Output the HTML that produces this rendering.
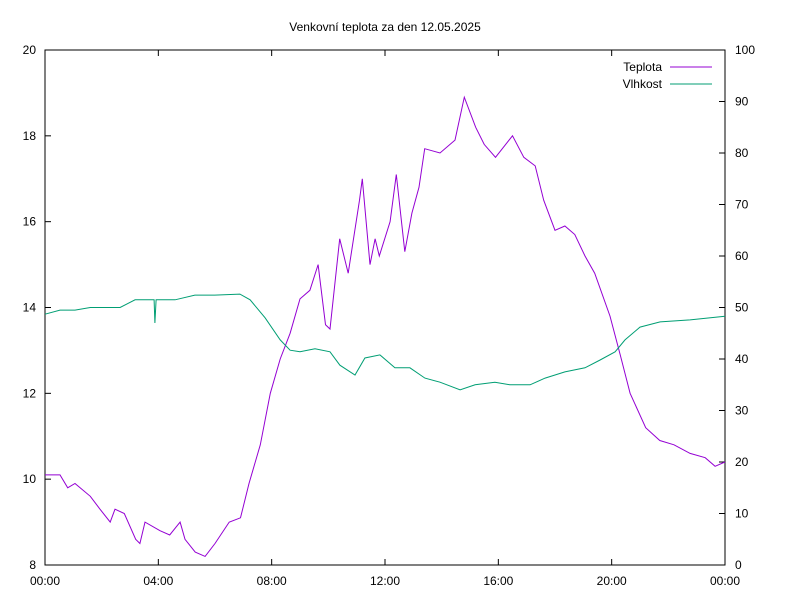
<!DOCTYPE html>
<html><head><meta charset="utf-8"><style>
body{margin:0;background:#fff;font-family:"Liberation Sans",sans-serif}
svg text{font-family:"Liberation Sans",sans-serif;font-size:12px;fill:#000}
</style></head><body>
<svg id="c" width="800" height="600" xmlns="http://www.w3.org/2000/svg">
<rect width="800" height="600" fill="#fff"/>
<text x="385" y="31" text-anchor="middle">Venkovní teplota za den 12.05.2025</text>
</svg>
<script>
const xTickLabels=["00:00","04:00","08:00","12:00","16:00","20:00","00:00"];
const leftTicks=[8,10,12,14,16,18,20];
const rightTicks=[0,10,20,30,40,50,60,70,80,90,100];
const tempHours=[0,0.53,0.8,1.06,1.6,1.94,2.3,2.47,2.8,3.2,3.35,3.53,4.06,4.4,4.77,4.94,5.3,5.65,6.0,6.5,6.9,7.2,7.6,7.95,8.3,8.65,9.0,9.35,9.64,9.9,10.06,10.4,10.7,11.1,11.2,11.47,11.65,11.8,12.18,12.4,12.7,12.95,13.2,13.4,13.94,14.47,14.8,15.2,15.5,15.9,16.5,16.9,17.3,17.6,18.0,18.35,18.7,19.06,19.4,19.94,20.3,20.65,21.2,21.7,22.2,22.77,23.3,23.65,24];
const tempValues=[10.1,10.1,9.8,9.9,9.6,9.3,9.0,9.3,9.2,8.6,8.5,9.0,8.8,8.7,9.0,8.6,8.3,8.2,8.5,9.0,9.1,9.9,10.8,12.0,12.8,13.4,14.2,14.4,15.0,13.6,13.5,15.6,14.8,16.5,17.0,15.0,15.6,15.2,16.0,17.1,15.3,16.2,16.8,17.7,17.6,17.9,18.9,18.2,17.8,17.5,18.0,17.5,17.3,16.5,15.8,15.9,15.7,15.2,14.8,13.8,12.9,12.0,11.2,10.9,10.8,10.6,10.5,10.3,10.4];
const humHours=[0,0.53,1.06,1.6,2.65,3.18,3.85,3.88,3.92,4.59,5.29,5.99,6.88,7.24,7.77,8.3,8.65,9.0,9.53,10.06,10.41,10.94,11.29,11.82,12.35,12.88,13.41,13.94,14.65,15.18,15.88,16.41,17.12,17.65,18.35,19.06,19.59,20.12,20.47,21.0,21.71,22.77,24];
const humValues=[48.7,49.5,49.5,50,50,51.5,51.5,47,51.5,51.5,52.4,52.4,52.6,51.5,48,43.7,41.7,41.4,42,41.4,38.8,36.9,40.2,40.8,38.3,38.3,36.3,35.5,34,35,35.5,35,35,36.3,37.5,38.3,39.8,41.4,43.7,46.2,47.2,47.6,48.3];
const X0=45,X1=725,Y0=565,Y1=50;
const xs=h=>X0+h/24*(X1-X0);
const yl=t=>Y0-(t-8)/12*(Y0-Y1);
const yr=v=>Y0-v/100*(Y0-Y1);
const svg=document.getElementById('c');
const NS="http://www.w3.org/2000/svg";
function mk(tag,attrs){const e=document.createElementNS(NS,tag);for(const k in attrs)e.setAttribute(k,attrs[k]);svg.appendChild(e);return e;}
const frame=mk('rect',{x:X0,y:Y1,width:X1-X0,height:Y0-Y1,fill:'none',stroke:'#000','stroke-width':1});


leftTicks.forEach(t=>{const y=yl(t);
 mk('line',{x1:X0,y1:y,x2:X0+6,y2:y,stroke:'#000'});
 const tx=mk('text',{x:X0-9,y:y+4,'text-anchor':'end'});tx.textContent=t;
 
 });
rightTicks.forEach(t=>{const y=yr(t);
 mk('line',{x1:X1-6,y1:y,x2:X1,y2:y,stroke:'#000'});
 const tx=mk('text',{x:X1+10,y:y+4,'text-anchor':'start'});tx.textContent=t;
 
 });
xTickLabels.forEach((l,i)=>{const x=xs(i*4);
 mk('line',{x1:x,y1:Y0,x2:x,y2:Y0-6,stroke:'#000'});
 mk('line',{x1:x,y1:Y1,x2:x,y2:Y1+6,stroke:'#000'});
 const tx=mk('text',{x:x,y:Y0+20,'text-anchor':'middle'});tx.textContent=l;
 
 });
const tp=mk('polyline',{points:tempHours.map((h,i)=>xs(h).toFixed(1)+','+yl(tempValues[i]).toFixed(1)).join(' '),fill:'none',stroke:'#9400d3','stroke-width':1});


const hp=mk('polyline',{points:humHours.map((h,i)=>xs(h).toFixed(1)+','+yr(humValues[i]).toFixed(1)).join(' '),fill:'none',stroke:'#009e73','stroke-width':1});


const l1=mk('text',{x:662,y:71,'text-anchor':'end'});l1.textContent='Teplota';


mk('line',{x1:670,y1:67,x2:712,y2:67,stroke:'#9400d3'});
const l2=mk('text',{x:662,y:88,'text-anchor':'end'});l2.textContent='Vlhkost';


mk('line',{x1:670,y1:84,x2:712,y2:84,stroke:'#009e73'});
</script>
</body></html>
